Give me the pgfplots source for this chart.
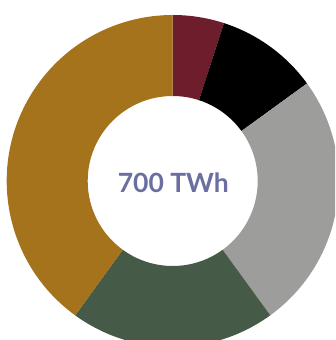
\documentclass[border=0pt]{standalone}
\usepackage{pgfplots}
\pgfplotsset{compat=1.18}
\usepackage{fontspec}
\setmainfont{Lato}
\definecolor{cMaroon}{HTML}{6E1D2C}
\definecolor{cBlack}{HTML}{000000}
\definecolor{cGray}{HTML}{9D9D9B}
\definecolor{cGreen}{HTML}{465B47}
\definecolor{cGold}{HTML}{A4731C}
\definecolor{cText}{HTML}{6A6EA0}
% cumulative slice: start and end in TWh (total 700), clockwise from top
\newcommand{\slice}[3]{%
  \pgfmathsetmacro{\sa}{90-(#1/700)*360}%
  \pgfmathsetmacro{\ea}{90-(#2/700)*360}%
  \edef\tmpslice{\noexpand\fill[#3] ([shift={(axis cs:0,0)}]\sa:166pt) arc[start angle=\sa, end angle=\ea, radius=166pt]
    -- ([shift={(axis cs:0,0)}]\ea:85pt) arc[start angle=\ea, end angle=\sa, radius=85pt] -- cycle;}%
  \tmpslice
}
\begin{document}
\begin{tikzpicture}
\useasboundingbox (0,0) rectangle (335pt,340pt);
\clip (0,0) rectangle (335pt,340pt);
\begin{axis}[
  x=1pt, y=1pt,
  xmin=-170, xmax=170, ymin=-170, ymax=170,
  hide axis, clip=false,
  anchor=origin, at={(172.7pt,159pt)},
]
% values (TWh): 35, 70, 175, 140, 280
\slice{0}{35}{cMaroon}
\slice{35}{105}{cBlack}
\slice{105}{280}{cGray}
\slice{280}{420}{cGreen}
\slice{420}{700}{cGold}
\node[font=\fontsize{26.5}{30}\selectfont\bfseries, text=cText, anchor=base, inner sep=0pt] at (axis cs:0.6,-11.7) {700 TWh};
\end{axis}
\end{tikzpicture}
\end{document}
